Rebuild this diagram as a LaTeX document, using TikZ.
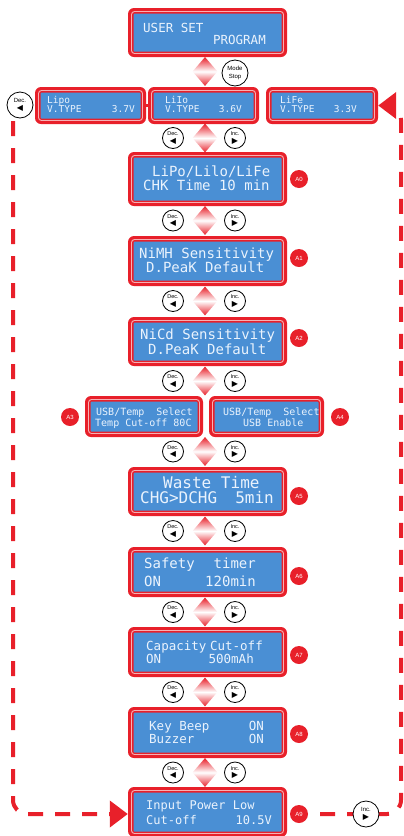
\documentclass[tikz,border=0pt]{standalone}
\usepackage{fontspec}
\setmainfont{Liberation Sans}
\newfontfamily\lcdf{DejaVu Sans Mono}
\newfontfamily\symf{DejaVu Sans}
\usetikzlibrary{shapes.geometric,arrows.meta}
\definecolor{lcdred}{HTML}{E8202A}
\definecolor{lcdblue}{HTML}{4A8FD4}
\definecolor{lcdtxt}{HTML}{EAF3FD}
\definecolor{lcdpink}{HTML}{F6B0B4}
\newcommand\fs[1]{\fontsize{#1}{#1}\selectfont}
\newcommand\mkbox[5]{%
 \node[outerbox, minimum width=#4, minimum height=#5] (#1) at (#2,#3) {};
 \node[midbox, minimum width=#4-7, minimum height=#5-7] (#1m) at (#2,#3) {};
 \node[innerbox, minimum width=#4-11, minimum height=#5-11] (#1i) at (#2,#3) {};
}
\newcommand\lt{{\symf\fontsize{8}{8}\selectfont\char"25C0}}
\newcommand\rt{{\symf\fontsize{8}{8}\selectfont\char"25B6}}
\tikzset{
 outerbox/.style={rectangle, rounded corners=6pt, fill=lcdred, inner sep=0pt},
 midbox/.style={rectangle, rounded corners=3pt, draw=lcdpink, line width=0.9pt, inner sep=0pt},
 innerbox/.style={rectangle, rounded corners=1pt, fill=lcdblue, inner sep=0pt},
 txt/.style={text=lcdtxt, inner sep=0pt, font=\lcdf\fs{#1}},
 tagc/.style={circle, fill=lcdred, minimum size=18pt, inner sep=0pt, text=white, font=\fs{6}},
 btn/.style={circle, draw=black, line width=0.8pt, fill=white, minimum size=21pt, inner sep=0pt, align=center, font=\fontsize{5.5}{7.5}\selectfont},
 bigbtn/.style={btn, minimum size=26pt, font=\fontsize{6}{8}\selectfont},
 dia/.style={diamond, minimum width=25pt, minimum height=29pt, inner sep=0pt, top color=lcdred, bottom color=lcdred, middle color=white},
 loopline/.style={draw=lcdred, line width=4pt, dash pattern=on 15pt off 12pt, rounded corners=14pt},
 tip/.style={-{Triangle[length=18pt,width=26pt]}},
}
\begin{document}
\begin{tikzpicture}[x=1pt,y=-1pt]
\useasboundingbox (0,0) rectangle (404,836);
% boxes
\mkbox{TOP}{207.5}{32.5}{159}{49}
\mkbox{LIPO}{90.5}{105.5}{111}{37}
\mkbox{LIIO}{203.5}{105.5}{111}{37}
\mkbox{LIFE}{322}{105.5}{112}{37}
\mkbox{A0}{207.5}{179}{159}{54}
\mkbox{A1}{207.5}{261}{159}{50}
\mkbox{A2}{207.5}{341.5}{159}{49}
\mkbox{A3}{144}{416.5}{118}{41}
\mkbox{A4}{266.5}{416.5}{115}{41}
\mkbox{A5}{207.5}{491.5}{159}{49}
\mkbox{A6}{207.5}{572}{159}{50}
\mkbox{A7}{207.5}{652}{159}{50}
\mkbox{A8}{207.5}{732.5}{159}{51}
\mkbox{A9}{207.5}{812}{159}{50}
\draw[lcdred, line width=3pt] (LIPO.east) -- (LIIO.west);
% loop lines
\coordinate (ls) at (13,121);
\coordinate (lc) at (13,814);
\draw[loopline, tip] (ls) -- (lc) -- (lc -| A9.west);
\coordinate (rs) at (320,814);
\coordinate (rc1) at (401,814);
\coordinate (rc2) at (401,105.5);
\draw[loopline, tip] (rs) -- (rc1) -- (rc2) -- (rc2 -| LIFE.east);
% texts
\node[txt=12.5, anchor=base west] (t0a) at (143,32) {USER SET};
\node[txt=12.5, anchor=base east] (t0b) at (266,44) {PROGRAM};
\node[txt=9.5, anchor=base west] (tpa) at (47,103.5) {Lipo};
\node[txt=9.5, anchor=base west] (tpb) at (47,112) {V.TYPE};
\node[txt=9.5, anchor=base east] (tpc) at (135,112) {3.7V};
\node[txt=9.5, anchor=base west] (tia) at (165,103.5) {LiIo};
\node[txt=9.5, anchor=base west] (tib) at (165,112) {V.TYPE};
\node[txt=9.5, anchor=base east] (tic) at (242,112) {3.6V};
\node[txt=9.5, anchor=base west] (tfa) at (280,103.5) {LiFe};
\node[txt=9.5, anchor=base west] (tfb) at (280,112) {V.TYPE};
\node[txt=9.5, anchor=base east] (tfc) at (357,112) {3.3V};
\node[txt=14, anchor=base west] (a0a) at (152,176) {LiPo/Lilo/LiFe};
\node[txt=14, anchor=base west] (a0b) at (143,190) {CHK Time 10 min};
\node[txt=14, anchor=base west] (a1a) at (139,258) {NiMH Sensitivity};
\node[txt=14, anchor=base west] (a1b) at (146,272) {D.PeaK Default};
\node[txt=14, anchor=base west] (a2a) at (140,339) {NiCd Sensitivity};
\node[txt=14, anchor=base west] (a2b) at (148,354) {D.PeaK Default};
\node[txt=10, anchor=base west] (a3a) at (96,415) {USB/Temp~~Select};
\node[txt=10, anchor=base west] (a3b) at (95,426) {Temp Cut-off 80C};
\node[txt=10, anchor=base west] (a4a) at (223,415) {USB/Temp~~Select};
\node[txt=10, anchor=base west] (a4b) at (243,426) {USB Enable};
\node[txt=16, anchor=base west] (a5a) at (163,488) {Waste Time};
\node[txt=16, anchor=base west] (a5b) at (140,503) {CHG>DCHG};
\node[txt=16, anchor=base east] (a5c) at (274,503) {5min};
\node[txt=14, anchor=base west] (a6a) at (144,568) {Safety};
\node[txt=14, anchor=base east] (a6b) at (256,568) {timer};
\node[txt=14, anchor=base west] (a6c) at (144,586) {ON};
\node[txt=14, anchor=base east] (a6d) at (256,586) {120min};
\node[txt=12.5, anchor=base west] (a7a) at (146,650) {Capacity};
\node[txt=12.5, anchor=base east] (a7b) at (263,650) {Cut-off};
\node[txt=12.5, anchor=base west] (a7c) at (146,663) {ON};
\node[txt=12.5, anchor=base east] (a7d) at (254,663) {500mAh};
\node[txt=12.5, anchor=base west] (a8a) at (149,730) {Key Beep};
\node[txt=12.5, anchor=base east] (a8b) at (264,730) {ON};
\node[txt=12.5, anchor=base west] (a8c) at (149,743) {Buzzer};
\node[txt=12.5, anchor=base east] (a8d) at (264,743) {ON};
\node[txt=12, anchor=base west] (a9a) at (146,809) {Input Power Low};
\node[txt=12, anchor=base west] (a9b) at (146,824) {Cut-off};
\node[txt=12, anchor=base east] (a9c) at (272,824) {10.5V};
% tags
\foreach \n/\x/\y in {A0/299/179, A1/299/258, A2/299/338, A3/70/417, A4/340/417, A5/299/496, A6/299/576, A7/299/655, A8/299/734, A9/299/814}
  \node[tagc] (tag\n) at (\x,\y) {\n};
% diamonds and buttons
\node[dia] (d0) at (205,71.5) {};
\node[bigbtn] (mode) at (235,73) {Mode\\Stop};
\foreach \i/\y in {1/138, 2/220.5, 3/301, 4/381, 5/451.5, 6/531, 7/612, 8/692, 9/772.5} {
  \node[dia] (d\i) at (205,\y) {};
  \node[btn] (dec\i) at (173,\y) {Dec.\\\lt};
  \node[btn] (inc\i) at (235,\y) {Inc.\\\rt};
}
\node[bigbtn] (decL) at (20,105) {Dec.\\\lt};
\node[bigbtn] (incR) at (366,814) {Inc.\\\rt};
\end{tikzpicture}
\end{document}
